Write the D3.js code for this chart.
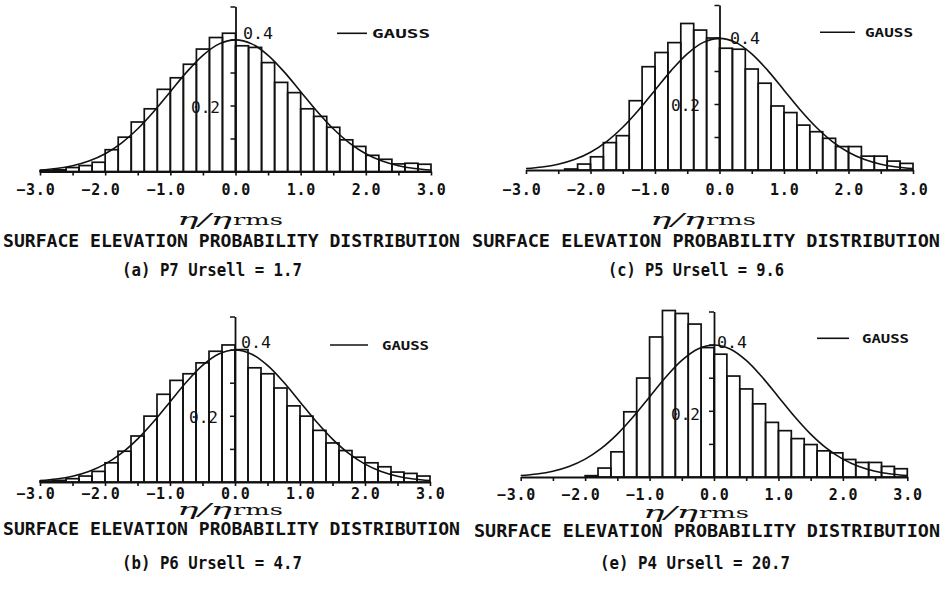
<!DOCTYPE html>
<html>
<head>
<meta charset="utf-8">
<script src="https://cdn.jsdelivr.net/npm/d3@7"></script>
<style>
  html, body { margin: 0; padding: 0; background: #fff; }
  svg { display: block; }
  text { fill: #111; }
</style>
</head>
<body>
<svg id="chart" width="942" height="594"></svg>
<script>
// Histogram bins: left edges, each 0.2 wide, covering -3.0 .. 3.0
const binStart = [-3.0, -2.8, -2.6, -2.4, -2.2, -2.0, -1.8, -1.6, -1.4, -1.2,
                  -1.0, -0.8, -0.6, -0.4, -0.2, 0.0, 0.2, 0.4, 0.6, 0.8,
                  1.0, 1.2, 1.4, 1.6, 1.8, 2.0, 2.2, 2.4, 2.6, 2.8];
const binWidth = 0.2;

// Measured probability density per bin
const probP7 = [0.003, 0.005, 0.012, 0.018, 0.028, 0.066, 0.104, 0.150, 0.190, 0.249,
                0.284, 0.325, 0.371, 0.406, 0.419, 0.381, 0.376, 0.330, 0.270, 0.239,
                0.190, 0.167, 0.134, 0.096, 0.076, 0.049, 0.037, 0.023, 0.025, 0.022];
const probP6 = [0.003, 0.005, 0.010, 0.018, 0.032, 0.058, 0.093, 0.139, 0.199, 0.265,
                0.307, 0.327, 0.360, 0.395, 0.414, 0.400, 0.345, 0.327, 0.284, 0.230,
                0.199, 0.156, 0.118, 0.095, 0.075, 0.058, 0.046, 0.030, 0.026, 0.018];
const probP5 = [0.000, 0.000, 0.000, 0.003, 0.018, 0.040, 0.083, 0.104, 0.210, 0.313,
                0.356, 0.386, 0.444, 0.424, 0.400, 0.369, 0.366, 0.306, 0.263, 0.194,
                0.174, 0.136, 0.116, 0.096, 0.071, 0.071, 0.042, 0.042, 0.027, 0.020];
const probP4 = [0.000, 0.000, 0.000, 0.000, 0.000, 0.004, 0.027, 0.076, 0.197, 0.299,
                0.423, 0.503, 0.494, 0.462, 0.391, 0.371, 0.305, 0.266, 0.221, 0.165,
                0.140, 0.116, 0.098, 0.079, 0.073, 0.053, 0.044, 0.044, 0.032, 0.025];

// Gaussian reference curve (standard normal density) sampled every 0.25
const gaussX = [-3.0, -2.75, -2.5, -2.25, -2.0, -1.75, -1.5, -1.25, -1.0, -0.75, -0.5, -0.25,
                0.0, 0.25, 0.5, 0.75, 1.0, 1.25, 1.5, 1.75, 2.0, 2.25, 2.5, 2.75, 3.0];
const gaussY = [0.0044, 0.0091, 0.0175, 0.0317, 0.0540, 0.0863, 0.1295, 0.1826, 0.2420, 0.3011, 0.3521, 0.3867,
                0.3989, 0.3867, 0.3521, 0.3011, 0.2420, 0.1826, 0.1295, 0.0863, 0.0540, 0.0317, 0.0175, 0.0091, 0.0044];

// Axis ticks and labels
const xTickValues = [-3.0, -2.5, -2.0, -1.5, -1.0, -0.5, 0.0, 0.5, 1.0, 1.5, 2.0, 2.5, 3.0];
const xLabelValues = [-3, -2, -1, 0, 1, 2, 3];
const yTickValues = [0.1, 0.2, 0.3, 0.4, 0.5];
const yLabelValues = [0.2, 0.4];

const titleText = "SURFACE ELEVATION PROBABILITY DISTRIBUTION";
const captions = ["(a) P7 Ursell = 1.7", "(c) P5 Ursell = 9.6", "(b) P6 Ursell = 4.7", "(e) P4 Ursell = 20.7"];
const legendText = "GAUSS";

const MONO = "'DejaVu Sans Mono', 'Liberation Mono', monospace";
const SERIF = "'DejaVu Serif', 'Liberation Serif', serif";

// Panel placement on the page
const layouts = [
  { data: probP7, caption: captions[0], x0: 40, x1: 431, base: 171.5, top: 6.5,
    tickY: 195, etaX: 177, etaY: 225, titleX: 3, titleW: 457, titleY: 246.5,
    capX: 122, capW: 180, capY: 276, legX: 337, legLen: 30, legY: 33.3, legTX: 372, legTextW: 58,
    lab4X: 243, lab4Y: 39, lab2X: 220, lab2Y: 112.5 },
  { data: probP5, caption: captions[1], x0: 526, x1: 913, base: 170, top: 5,
    tickY: 195, etaX: 650, etaY: 225, titleX: 472, titleW: 468, titleY: 246.5,
    capX: 608, capW: 176, capY: 276, legX: 820, legLen: 35, legY: 32.3, legTX: 865, legTextW: 48,
    lab4X: 730, lab4Y: 44, lab2X: 700, lab2Y: 111 },
  { data: probP6, caption: captions[2], x0: 40, x1: 430, base: 482, top: 316.5,
    tickY: 499, etaX: 177, etaY: 515, titleX: 3, titleW: 457, titleY: 535,
    capX: 122, capW: 180, capY: 569, legX: 330, legLen: 38, legY: 345, legTX: 382, legTextW: 47,
    lab4X: 241, lab4Y: 348, lab2X: 218, lab2Y: 423 },
  { data: probP4, caption: captions[3], x0: 520.7, x1: 907.3, base: 477, top: 311.5,
    tickY: 499.5, etaX: 643, etaY: 518, titleX: 474, titleW: 466, titleY: 537,
    capX: 600, capW: 190, capY: 569, legX: 817, legLen: 32, legY: 338.3, legTX: 862, legTextW: 47,
    lab4X: 717, lab4Y: 348, lab2X: 700, lab2Y: 420 }
];

const svg = d3.select("#chart");
const fmt = d3.format(".1f");

layouts.forEach(L => {
  const g = svg.append("g");
  const x = d3.scaleLinear().domain([-3, 3]).range([L.x0, L.x1]);
  const y = d3.scaleLinear().domain([0, 0.5]).range([L.base, L.top]);

  // Text on the y axis: 0.2 sits left of the axis, 0.4 to its right
  g.append("text")
    .attr("x", L.lab2X).attr("y", L.lab2Y)
    .attr("text-anchor", "end")
    .style("font-family", MONO).style("font-size", "16px")
    .attr("textLength", 29).attr("lengthAdjust", "spacingAndGlyphs")
    .text(fmt(yLabelValues[0]));
  g.append("text")
    .attr("x", L.lab4X).attr("y", L.lab4Y)
    .style("font-family", MONO).style("font-size", "16px")
    .attr("textLength", 30).attr("lengthAdjust", "spacingAndGlyphs")
    .text(fmt(yLabelValues[1]));

  // Histogram bars, outlines only
  g.selectAll("rect.bar")
    .data(binStart.map((b, i) => ({ b, v: L.data[i] })).filter(d => d.v > 0))
    .join("rect")
    .attr("class", "bar")
    .attr("x", d => x(d.b))
    .attr("width", d => x(d.b + binWidth) - x(d.b))
    .attr("y", d => y(d.v))
    .attr("height", d => y(0) - y(d.v))
    .attr("fill", "none")
    .attr("stroke", "#111")
    .attr("stroke-width", 1.7);

  // Gaussian curve
  const line = d3.line()
    .x((d, i) => x(gaussX[i]))
    .y(d => y(d))
    .curve(d3.curveCatmullRom);
  g.append("path")
    .attr("d", line(gaussY))
    .attr("fill", "none")
    .attr("stroke", "#111")
    .attr("stroke-width", 1.6);

  // x axis: ticks every 0.5, labels at whole numbers
  const xAxis = g.append("g")
    .attr("transform", `translate(0,${L.base})`)
    .call(d3.axisBottom(x).tickValues(xTickValues).tickSize(4).tickSizeOuter(0).tickFormat(""));
  xAxis.select(".domain").attr("stroke", "#111").attr("stroke-width", 1.8);
  xAxis.selectAll(".tick line").attr("stroke", "#111").attr("stroke-width", 1.6);

  const xLab = g.append("g")
    .attr("transform", `translate(0,${L.base})`)
    .call(d3.axisBottom(x).tickValues(xLabelValues).tickSize(0).tickFormat(fmt));
  xLab.select(".domain").remove();
  xLab.selectAll(".tick text")
    .attr("y", L.tickY - L.base)
    .attr("dy", null)
    .attr("x", 15)
    .attr("text-anchor", "end")
    .style("font-family", MONO).style("font-size", "15px").style("font-weight", "bold")
    .style("letter-spacing", "0.8px")
    .attr("fill", "#111");

  // y axis at x = 0
  const yAxis = g.append("g")
    .attr("transform", `translate(${x(0)},0)`)
    .call(d3.axisLeft(y).tickValues(yTickValues).tickSize(5).tickSizeOuter(0).tickFormat(""));
  yAxis.select(".domain").attr("stroke", "#111").attr("stroke-width", 1.8);
  yAxis.selectAll(".tick line").attr("stroke", "#111").attr("stroke-width", 1.5);

  // Axis title η/ηrms
  g.append("text")
    .attr("x", L.etaX).attr("y", L.etaY)
    .style("font-family", SERIF).style("font-style", "italic").style("font-size", "17px")
    .attr("textLength", 55).attr("lengthAdjust", "spacingAndGlyphs")
    .text("η/η");
  g.append("text")
    .attr("x", L.etaX + 56).attr("y", L.etaY)
    .style("font-family", SERIF).style("font-size", "15px")
    .attr("textLength", 50).attr("lengthAdjust", "spacingAndGlyphs")
    .text("rms");

  // Chart title and caption
  g.append("text")
    .attr("x", L.titleX).attr("y", L.titleY)
    .style("font-family", MONO).style("font-size", "17px").style("font-weight", "bold")
    .attr("textLength", L.titleW).attr("lengthAdjust", "spacingAndGlyphs")
    .text(titleText);
  g.append("text")
    .attr("x", L.capX).attr("y", L.capY)
    .style("font-family", MONO).style("font-size", "17px").style("font-weight", "bold")
    .attr("textLength", L.capW).attr("lengthAdjust", "spacingAndGlyphs")
    .text(L.caption);

  // Legend
  g.append("line")
    .attr("x1", L.legX).attr("x2", L.legX + L.legLen)
    .attr("y1", L.legY).attr("y2", L.legY)
    .attr("stroke", "#111").attr("stroke-width", 1.6);
  g.append("text")
    .attr("x", L.legTX).attr("y", L.legY + 5)
    .style("font-family", MONO).style("font-size", "13px").style("font-weight", "bold")
    .attr("textLength", L.legTextW).attr("lengthAdjust", "spacingAndGlyphs")
    .text(legendText);
});
</script>
</body>
</html>
